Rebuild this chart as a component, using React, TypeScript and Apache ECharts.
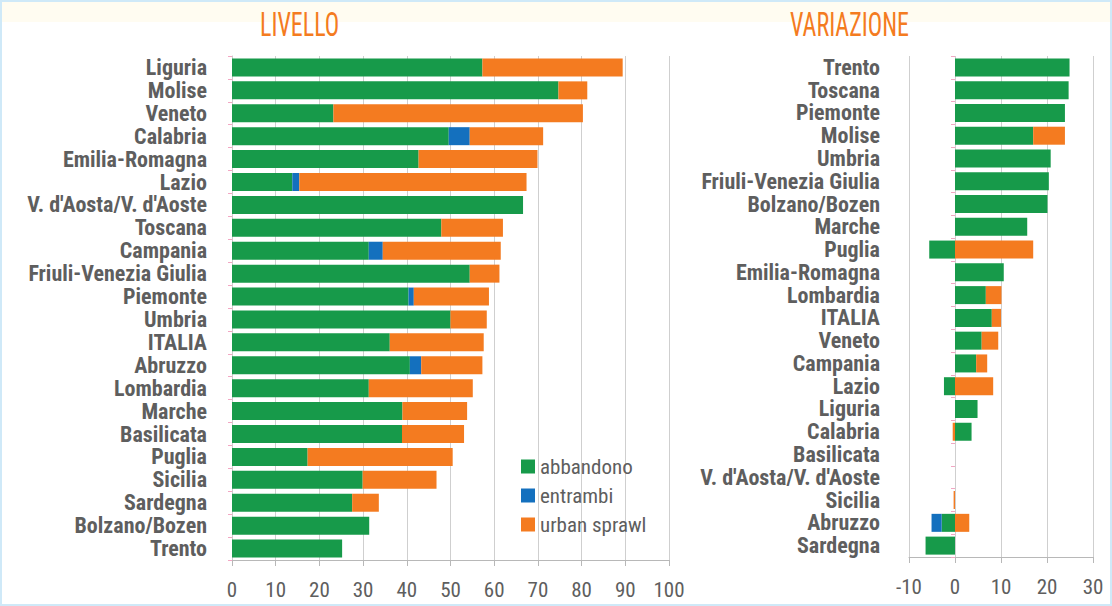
import React, { useEffect, useRef } from "react";
import * as echarts from "echarts";

const levelRegions = ["Liguria", "Molise", "Veneto", "Calabria", "Emilia-Romagna", "Lazio", "V. d'Aosta/V. d'Aoste", "Toscana", "Campania", "Friuli-Venezia Giulia", "Piemonte", "Umbria", "ITALIA", "Abruzzo", "Lombardia", "Marche", "Basilicata", "Puglia", "Sicilia", "Sardegna", "Bolzano/Bozen", "Trento"];
const levelAbbandono = [57.3, 74.7, 23.2, 49.6, 42.7, 13.8, 66.6, 47.9, 31.3, 54.4, 40.4, 50.0, 36.1, 40.7, 31.3, 39.0, 38.9, 17.3, 29.9, 27.5, 31.4, 25.2];
const levelEntrambi = [0, 0, 0, 4.8, 0, 1.6, 0, 0, 3.2, 0, 1.2, 0, 0, 2.6, 0, 0, 0, 0, 0, 0, 0, 0];
const levelSprawl = [32.1, 6.6, 57.1, 16.8, 27.2, 52.0, 0, 14.1, 27.0, 6.8, 17.2, 8.3, 21.5, 14.0, 23.8, 14.8, 14.2, 33.2, 16.9, 6.1, 0, 0];

const varRegions = ["Trento", "Toscana", "Piemonte", "Molise", "Umbria", "Friuli-Venezia Giulia", "Bolzano/Bozen", "Marche", "Puglia", "Emilia-Romagna", "Lombardia", "ITALIA", "Veneto", "Campania", "Lazio", "Liguria", "Calabria", "Basilicata", "V. d'Aosta/V. d'Aoste", "Sicilia", "Abruzzo", "Sardegna"];
const varAbbandono = [24.9, 24.7, 23.9, 17.0, 20.8, 20.4, 20.1, 15.7, -5.6, 10.6, 6.7, 8.0, 5.8, 4.6, -2.4, 4.9, 3.6, 0, 0, 0, -2.9, -6.4];
const varEntrambi = [0, 0, 0, 0, 0, 0, 0, 0, 0, 0, 0, 0, 0, 0, 0, 0, 0, 0, 0, 0, -2.2, 0];
const varSprawl = [0, 0, 0, 6.9, 0, 0, 0, 0, 17.0, 0, 3.4, 2.0, 3.6, 2.4, 8.3, 0, -0.5, 0, 0, -0.3, 3.1, 0];

const levelTicks = { min: 0, max: 100, interval: 10 };
const varTicks = { min: -10, max: 30, interval: 10 };
const legendNames = ["abbandono", "entrambi", "urban sprawl"];
const titles = ["LIVELLO", "VARIAZIONE"];

const GREEN = "#179a4a";
const BLUE = "#1470be";
const ORANGE = "#f47b20";
const TEXT = "#5e5e5e";
const FONT = "'Roboto Condensed', 'Open Sans Condensed', sans-serif";

export default function App() {
  const ref = useRef<HTMLDivElement>(null);
  useEffect(() => {
    const chart = echarts.init(ref.current!, null, { renderer: "svg" });
    const catAxis = (gridIndex: number, data: string[], margin: number) => ({
      type: "category",
      gridIndex,
      data,
      inverse: true,
      axisLine: { show: gridIndex === 0, onZero: false, lineStyle: { color: "#cccccc" } },
      axisTick: { show: gridIndex === 0, length: 4, lineStyle: { color: "#f2a7c3" } },
      axisLabel: { interval: 0, margin, color: TEXT, fontFamily: FONT, fontWeight: "bold", fontSize: 22 },
    });
    const valAxis = (gridIndex: number, t: { min: number; max: number; interval: number }) => ({
      type: "value",
      gridIndex,
      min: t.min,
      max: t.max,
      interval: t.interval,
      axisLine: { show: true, onZero: false, lineStyle: { color: "#b8b8b8" } },
      axisTick: { show: true, length: 6, lineStyle: { color: "#b8b8b8" } },
      splitLine: { show: true, lineStyle: { color: "#cfcfcf" } },
      axisLabel: { margin: 19, color: TEXT, fontFamily: FONT, fontSize: 21 },
    });
    const bar = (name: string, color: string, data: number[], idx: number, stack: string) => ({
      name,
      type: "bar",
      stack,
      xAxisIndex: idx,
      yAxisIndex: idx,
      barWidth: 18,
      itemStyle: { color },
      data,
    });
    chart.setOption({
      animation: false,
      backgroundColor: "#ffffff",
      grid: [
        { left: 232, right: 443, top: 56, bottom: 46, containLabel: false, outerBoundsMode: "none" },
        { left: 909, right: 19, top: 56, bottom: 49, containLabel: false, outerBoundsMode: "none" },
      ],
      xAxis: [valAxis(0, levelTicks), valAxis(1, varTicks)],
      yAxis: [
        catAxis(0, levelRegions, 25),
        catAxis(1, varRegions, 29),
        {
          type: "category",
          gridIndex: 1,
          data: varRegions,
          inverse: true,
          position: "left",
          axisLine: { show: false, onZero: true },
          axisTick: { show: true, length: 4, lineStyle: { color: "#f2a7c3" } },
          axisLabel: { show: false },
        },
      ],
      legend: {
        orient: "vertical",
        left: 516,
        top: 451,
        itemWidth: 14,
        itemHeight: 14,
        itemGap: 8,
        icon: "rect",
        textStyle: { color: TEXT, fontFamily: FONT, fontSize: 21 },
        data: legendNames,
      },
      graphic: [
        { type: "rect", shape: { x: 0, y: 0, width: 1112, height: 22 }, style: { fill: "#fffcf1" }, silent: true },
        { type: "rect", shape: { x: 1, y: 1, width: 1110, height: 604 }, style: { fill: "none", stroke: "#cfe9f8", lineWidth: 2 }, silent: true },
        { type: "text", x: 260, y: 24, scaleY: 1.4, style: { text: titles[0], fill: ORANGE, fontFamily: FONT, fontSize: 24, verticalAlign: "middle" } },
        { type: "text", x: 790, y: 24, scaleY: 1.4, style: { text: titles[1], fill: ORANGE, fontFamily: FONT, fontSize: 24, verticalAlign: "middle" } },
      ],
      series: [
        bar(legendNames[0], GREEN, levelAbbandono, 0, "L"),
        bar(legendNames[1], BLUE, levelEntrambi, 0, "L"),
        bar(legendNames[2], ORANGE, levelSprawl, 0, "L"),
        bar(legendNames[0], GREEN, varAbbandono, 1, "R"),
        bar(legendNames[1], BLUE, varEntrambi, 1, "R"),
        bar(legendNames[2], ORANGE, varSprawl, 1, "R"),
      ],
    });
    return () => chart.dispose();
  }, []);
  return <div ref={ref} style={{ position: "absolute", left: 0, top: 0, width: 1112, height: 606 }} />;
}
